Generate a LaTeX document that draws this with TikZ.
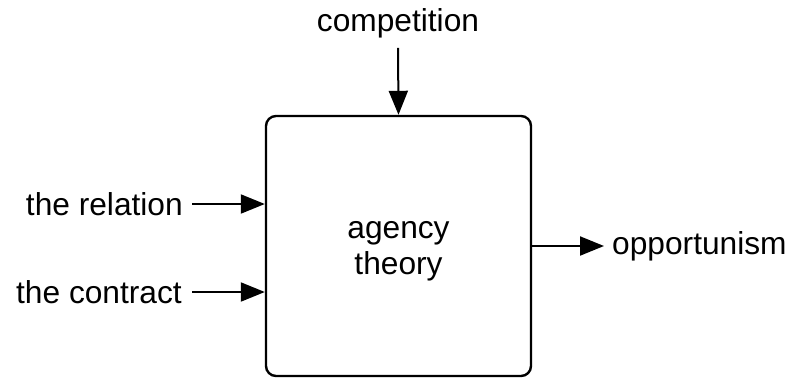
\documentclass[tikz,border=0pt]{standalone}
\usepackage{fontspec}
\setmainfont{Liberation Sans}
\usepackage{tikz}
\usetikzlibrary{arrows.meta,positioning,calc}
\definecolor{inkblack}{HTML}{000000}
\tikzset{
  theorybox/.style={rounded corners=10pt, draw=inkblack, line width=2.4pt,
                    minimum width=265pt, minimum height=260pt, inner sep=0pt},
  term/.style={font=\fontsize{31.7}{36}\selectfont, inner sep=0pt},
  flow/.style={-{Triangle[length=24pt,width=19pt]}, line width=2pt,
               draw=inkblack},
}

\begin{document}
\begin{tikzpicture}[x=1pt, y=-1pt]
\useasboundingbox (0,0) rectangle (791,378);

% ---------------- the theory ----------------------------------------------
\node[theorybox] at (398.5,246) (agency) {};
\node[term, align=center] at (398.5,251) (agencytext) {agency\\theory};

% ---------------- inputs --------------------------------------------------
\node[term] at (398,23) (comp) {competition};
\draw[flow] (comp.south) ++(0,10) coordinate (compfoot)
  (compfoot) -- (agency.north);

\node[term, anchor=east] at (183,204) (relation) {the relation};
\draw[flow] ([xshift=9pt]relation.east) coordinate (relfoot)
  (relfoot) -- (relfoot -| agency.west);

\node[term, anchor=east] at (182,292) (contract) {the contract};
\draw[flow] ([xshift=10pt]contract.east) coordinate (confoot)
  (confoot) -- (confoot -| agency.west);

% ---------------- output --------------------------------------------------
\node[term, anchor=west] at (612,246) (opp) {opportunism};
\draw[flow] (agency.east |- opp.west) -- ([xshift=-8pt]opp.west);
\end{tikzpicture}
\end{document}
